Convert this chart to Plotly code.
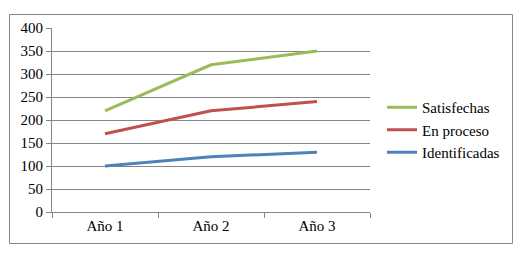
import plotly.graph_objects as go

categories = ["Año 1", "Año 2", "Año 3"]
satisfechas = [220, 320, 350]
en_proceso = [170, 220, 240]
identificadas = [100, 120, 130]
y_ticks = [0, 50, 100, 150, 200, 250, 300, 350, 400]

# page has an 8px body margin, so the figure is drawn 8px smaller and offset
OFF = 8
W, H = 526 - OFF, 253 - OFF
L, T = 52 - OFF, 28 - OFF
pw, ph = 318, 184
R, B = W - L - pw, H - T - ph

def px_x(p):
    return (p - OFF - L) / pw

def px_y(p):
    return (T + ph - (p - OFF)) / ph

SERIF = "Liberation Serif"

def f():
    return dict(family=SERIF, size=15, color="#000000")

fig = go.Figure()
series = [
    ("Satisfechas", satisfechas, "#9BBB59"),
    ("En proceso", en_proceso, "#C0504D"),
    ("Identificadas", identificadas, "#4F81BD"),
]
for name, vals, col in series:
    fig.add_trace(go.Scatter(x=categories, y=vals, mode="lines", name=name,
                             line=dict(color=col, width=3)))

fig.update_layout(
    width=W, height=H,
    margin=dict(l=L, r=R, t=T, b=B),
    paper_bgcolor="white", plot_bgcolor="white",
    font=f(),
    showlegend=True,
    legend=dict(x=px_x(382), y=px_y(91), xanchor="left", yanchor="top",
                font=f(), bgcolor="rgba(0,0,0,0)", itemwidth=30),
    xaxis=dict(range=[-0.5, 2.5], showgrid=False, showline=True, linecolor="#868686",
               linewidth=1, ticks="outside", tickcolor="#868686", ticklen=5,
               tickson="boundaries", tickfont=f(), fixedrange=True),
    yaxis=dict(range=[0, 400], tickvals=y_ticks, showgrid=True, gridcolor="#868686",
               gridwidth=1, showline=True, linecolor="#868686", linewidth=1,
               ticks="outside", tickcolor="#868686", ticklen=5, tickfont=f(),
               zeroline=False, fixedrange=True),
    shapes=[dict(type="rect", xref="paper", yref="paper",
                 x0=px_x(9.5), x1=px_x(512.5), y0=px_y(243.5), y1=px_y(14.5),
                 line=dict(color="#868686", width=1), fillcolor="rgba(0,0,0,0)",
                 layer="below")],
)

fig.write_html("out.html")
